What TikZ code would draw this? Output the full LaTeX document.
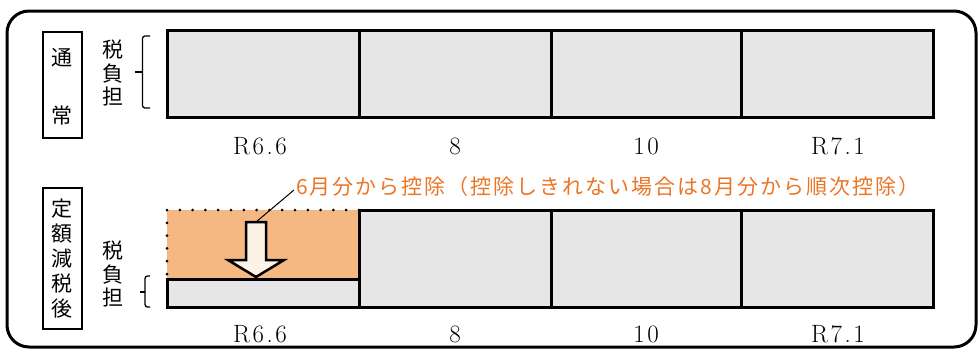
\documentclass[tikz,border=0pt]{standalone}
\usepackage{fontspec}
\newfontfamily\jp{Noto Sans CJK JP}
\newfontfamily\jpnote[LetterSpace=9.5]{Noto Sans CJK JP}
\newfontfamily\datefont[LetterSpace=10]{Latin Modern Roman}
\definecolor{cellgray}{HTML}{E6E6E6}
\definecolor{deduct}{HTML}{F6B883}
\definecolor{note}{HTML}{EB7525}
\definecolor{arrowfill}{HTML}{FDF2E6}
\begin{document}
\begin{tikzpicture}[x=1pt,y=-1pt,
  cell/.style={draw, line width=3pt, fill=cellgray, inner sep=0pt},
  datelbl/.style={font=\datefont\fontsize{25}{25}\selectfont, inner sep=0pt},
  sidebox/.style={draw, line width=2pt, inner sep=0pt, minimum width=39pt, align=center},
  vlabel/.style={font=\jp\fontsize{21}{23.5}\selectfont, align=center, inner sep=0pt},
  bracket/.style={line width=1.3pt, rounded corners=2.5pt}]
\useasboundingbox (0,0) rectangle (978,349);
% outer frame
\draw[line width=3pt, rounded corners=22pt] (7,11) rectangle (976,347);
% --- normal row ---
\node[sidebox, minimum height=106pt] (nbox) at (62,85) {};
\node[vlabel] (n1) at (62,58) {通};
\node[vlabel] (n2) at (62,116) {常};
\node[vlabel] (tax1) at (113,73) {税\\負\\担};
\draw[bracket] (150,36) -- (142.5,36) -- (142.5,108) -- (150,108);
\draw[line width=1.3pt] (142.5,72) -- (135,72);
\node[cell, minimum width=192pt, minimum height=87pt] (a1) at (263,73.5) {};
\node[cell, minimum width=192pt, minimum height=87pt] (a2) at (455,73.5) {};
\node[cell, minimum width=190pt, minimum height=87pt] (a3) at (646,73.5) {};
\node[cell, minimum width=192pt, minimum height=87pt] (a4) at (837,73.5) {};
\node[datelbl] (la1) at (260,146) {R6.6};
\node[datelbl] (la2) at (455,146) {8};
\node[datelbl] (la3) at (646,146) {10};
\node[datelbl] (la4) at (838,146) {R7.1};
% --- after reduction row ---
\node[sidebox, minimum height=141pt] (rbox) at (62,258.5) {};
\node[vlabel, font=\jp\fontsize{21}{25}\selectfont] (r1) at (62,258.5) {定\\額\\減\\税\\後};
\node[vlabel] (tax2) at (113,274) {税\\負\\担};
\draw[bracket] (150,276) -- (145,276) -- (145,307) -- (150,307);
\draw[line width=1.3pt] (145,292) -- (139.5,292);
% deducted part
\fill[deduct] (167,210) rectangle (359,279);
\draw[line width=3pt, line cap=round, dash pattern=on 0pt off 12.8pt] (359,210) -- (167,210) -- (167,279);
\node[cell, minimum width=192pt, minimum height=28pt] (b1) at (263,293) {};
\node[cell, minimum width=192pt, minimum height=97pt] (b2) at (455,258.5) {};
\node[cell, minimum width=190pt, minimum height=97pt] (b3) at (646,258.5) {};
\node[cell, minimum width=192pt, minimum height=97pt] (b4) at (837,258.5) {};
\node[datelbl] (lb1) at (260,334) {R6.6};
\node[datelbl] (lb2) at (455,334) {8};
\node[datelbl] (lb3) at (646,334) {10};
\node[datelbl] (lb4) at (838,334) {R7.1};
% hollow arrow
\coordinate (arrtop) at (256,222);
\draw[line width=2.5pt, fill=arrowfill, line join=miter]
  (246,222) -- (266,222) -- (266,260) -- (284,260) -- (256,277) -- (228,260) -- (246,260) -- cycle;
% note
\node[font=\jpnote\fontsize{21}{21}\selectfont, text=note, anchor=west, inner sep=0pt] (note) at (296,187)
  {6月分から控除（控除しきれない場合は8月分から順次控除）};
\coordinate (notefoot) at (294,190);
\draw[line width=1pt] (notefoot) -- (arrtop);
\end{tikzpicture}
\end{document}
